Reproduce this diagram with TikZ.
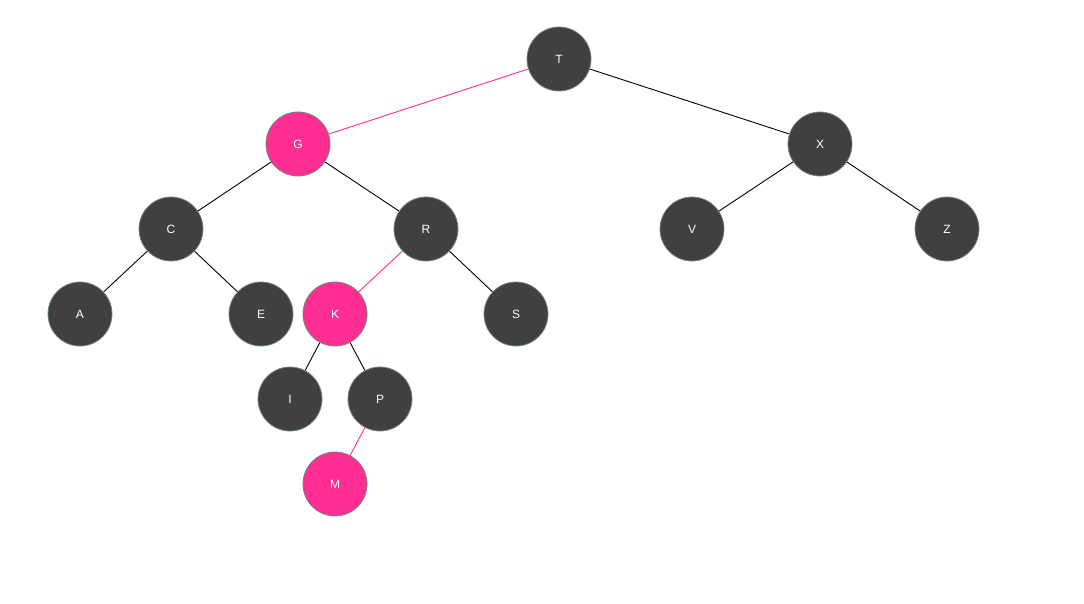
\documentclass[tikz,border=0pt]{standalone}
\usepackage{fontspec}
\setmainfont{Liberation Sans}
\definecolor{nodedark}{HTML}{404040}
\definecolor{nodepink}{HTML}{FF2E93}
\definecolor{nodeedge}{HTML}{6F887E}
\begin{document}
\begin{tikzpicture}[x=1pt,y=-1pt,
  bnode/.style={circle,draw=nodeedge,line width=0.8pt,fill=nodedark,minimum size=64pt,inner sep=0pt,text=white,font=\fontsize{12}{14}\selectfont},
  rnode/.style={bnode,fill=nodepink},
  blink/.style={draw=black,line width=0.9pt},
  rlink/.style={draw=nodepink,line width=0.9pt}]
\useasboundingbox (0,0) rectangle (1084,604);
\path[fill=white] (0,0) rectangle (1084,604);
\coordinate (cT) at (559,59);
\coordinate (cG) at (298,144);
\coordinate (cX) at (820,144);
\coordinate (cC) at (171,229);
\coordinate (cR) at (426,229);
\coordinate (cV) at (692,229);
\coordinate (cZ) at (947,229);
\coordinate (cA) at (80,314);
\coordinate (cE) at (261,314);
\coordinate (cK) at (335,314);
\coordinate (cS) at (516,314);
\coordinate (cI) at (290,399);
\coordinate (cP) at (380,399);
\coordinate (cM) at (335,484);
\path[rlink] (cT) -- (cG);
\path[blink] (cT) -- (cX);
\path[blink] (cG) -- (cC);
\path[blink] (cG) -- (cR);
\path[blink] (cX) -- (cV);
\path[blink] (cX) -- (cZ);
\path[blink] (cC) -- (cA);
\path[blink] (cC) -- (cE);
\path[rlink] (cR) -- (cK);
\path[blink] (cR) -- (cS);
\path[blink] (cK) -- (cI);
\path[blink] (cK) -- (cP);
\path[rlink] (cP) -- (cM);
\node[bnode] (T) at (cT) {T};
\node[rnode] (G) at (cG) {G};
\node[bnode] (X) at (cX) {X};
\node[bnode] (C) at (cC) {C};
\node[bnode] (R) at (cR) {R};
\node[bnode] (V) at (cV) {V};
\node[bnode] (Z) at (cZ) {Z};
\node[bnode] (A) at (cA) {A};
\node[bnode] (E) at (cE) {E};
\node[rnode] (K) at (cK) {K};
\node[bnode] (S) at (cS) {S};
\node[bnode] (I) at (cI) {I};
\node[bnode] (P) at (cP) {P};
\node[rnode] (M) at (cM) {M};
\end{tikzpicture}
\end{document}
